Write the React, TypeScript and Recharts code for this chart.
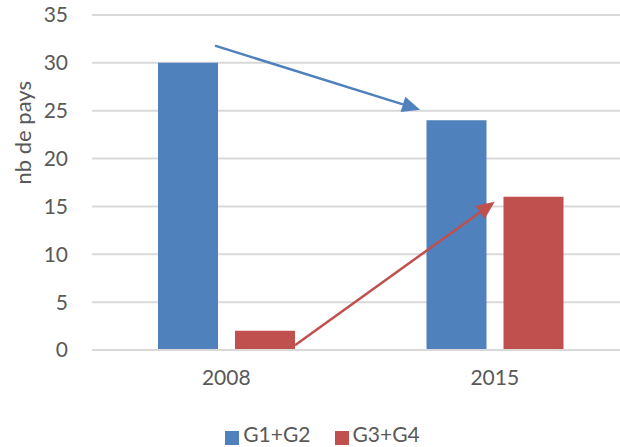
import React from 'react';
import {
  BarChart,
  Bar,
  XAxis,
  YAxis,
  CartesianGrid,
  Legend,
  ReferenceLine,
} from 'recharts';

const YEARS = ['2008', '2015'];
const G12 = [30, 24];
const G34 = [2, 16];
const Y_TICKS = [0, 5, 10, 15, 20, 25, 30, 35];

// arrows, in data units: x as a fraction of the plot width (hidden 0..1 axis), y in "nb de pays"
const BLUE_ARROW = [{ x: 0.229, y: 31.8 }, { x: 0.611, y: 25.1 }];
const RED_ARROW = [{ x: 0.378, y: 0.5 }, { x: 0.75, y: 15.5 }];

const BLUE = '#4F81BD';
const RED = '#C0504D';
const TEXT = '#595959';
const FONT = 'Lato, "Open Sans", sans-serif';

const data = YEARS.map((year, i) => ({ year, g12: G12[i], g34: G34[i] }));

const Arrow = (props: any) => {
  const { x1, y1, x2, y2, stroke } = props;
  const ang = Math.atan2(y2 - y1, x2 - x1);
  const len = 18;
  const half = 8;
  const bx = x2 - len * Math.cos(ang);
  const by = y2 - len * Math.sin(ang);
  const px = -Math.sin(ang) * half;
  const py = Math.cos(ang) * half;
  return (
    <g>
      <line x1={x1} y1={y1} x2={bx} y2={by} stroke={stroke} strokeWidth={2.5} />
      <polygon
        points={`${x2},${y2} ${bx + px},${by + py} ${bx - px},${by - py}`}
        fill={stroke}
      />
    </g>
  );
};

export default function App() {
  return (
    <div
      style={{
        position: 'absolute',
        left: 0,
        top: 0,
        width: 620,
        height: 447,
        overflow: 'hidden',
        background: '#fff',
        fontFamily: FONT,
      }}
    >
      <BarChart
        width={629}
        height={447}
        data={data}
        margin={{ top: 15, right: 0, left: 0, bottom: 0 }}
        barGap={17}
        barSize={60}
        barCategoryGap="24.5%"
      >
        <CartesianGrid vertical={false} stroke="#d9d9d9" strokeWidth={2} />
        <XAxis
          dataKey="year"
          axisLine={{ stroke: '#d9d9d9', strokeWidth: 2 }}
          tickLine={false}
          tick={{ fill: TEXT, fontSize: 21 }}
          tickMargin={14}
          height={71}
        />
        <XAxis xAxisId="n" type="number" domain={[0, 1]} hide />
        <YAxis
          width={92}
          domain={[0, 35]}
          ticks={Y_TICKS}
          axisLine={false}
          tickLine={false}
          tick={{ fill: TEXT, fontSize: 21 }}
          tickMargin={18}
          label={{
            value: 'nb de pays',
            angle: -90,
            position: 'insideLeft',
            dx: 18,
            dy: 2,
            fill: TEXT,
            fontSize: 22,
          }}
        />
        <Legend
          verticalAlign="bottom"
          iconType="square"
          iconSize={14}
          height={26}
          wrapperStyle={{ paddingLeft: 20 }}
          formatter={(value) => (
            <span style={{ color: TEXT, fontSize: 21, paddingRight: 14 }}>{value}</span>
          )}
        />
        <Bar dataKey="g12" name="G1+G2" fill={BLUE} isAnimationActive={false} />
        <Bar dataKey="g34" name="G3+G4" fill={RED} isAnimationActive={false} />
        <ReferenceLine
          xAxisId="n"
          segment={BLUE_ARROW}
          stroke={BLUE}
          shape={Arrow}
          ifOverflow="visible"
        />
        <ReferenceLine
          xAxisId="n"
          segment={RED_ARROW}
          stroke={RED}
          shape={Arrow}
          ifOverflow="visible"
        />
      </BarChart>
    </div>
  );
}
